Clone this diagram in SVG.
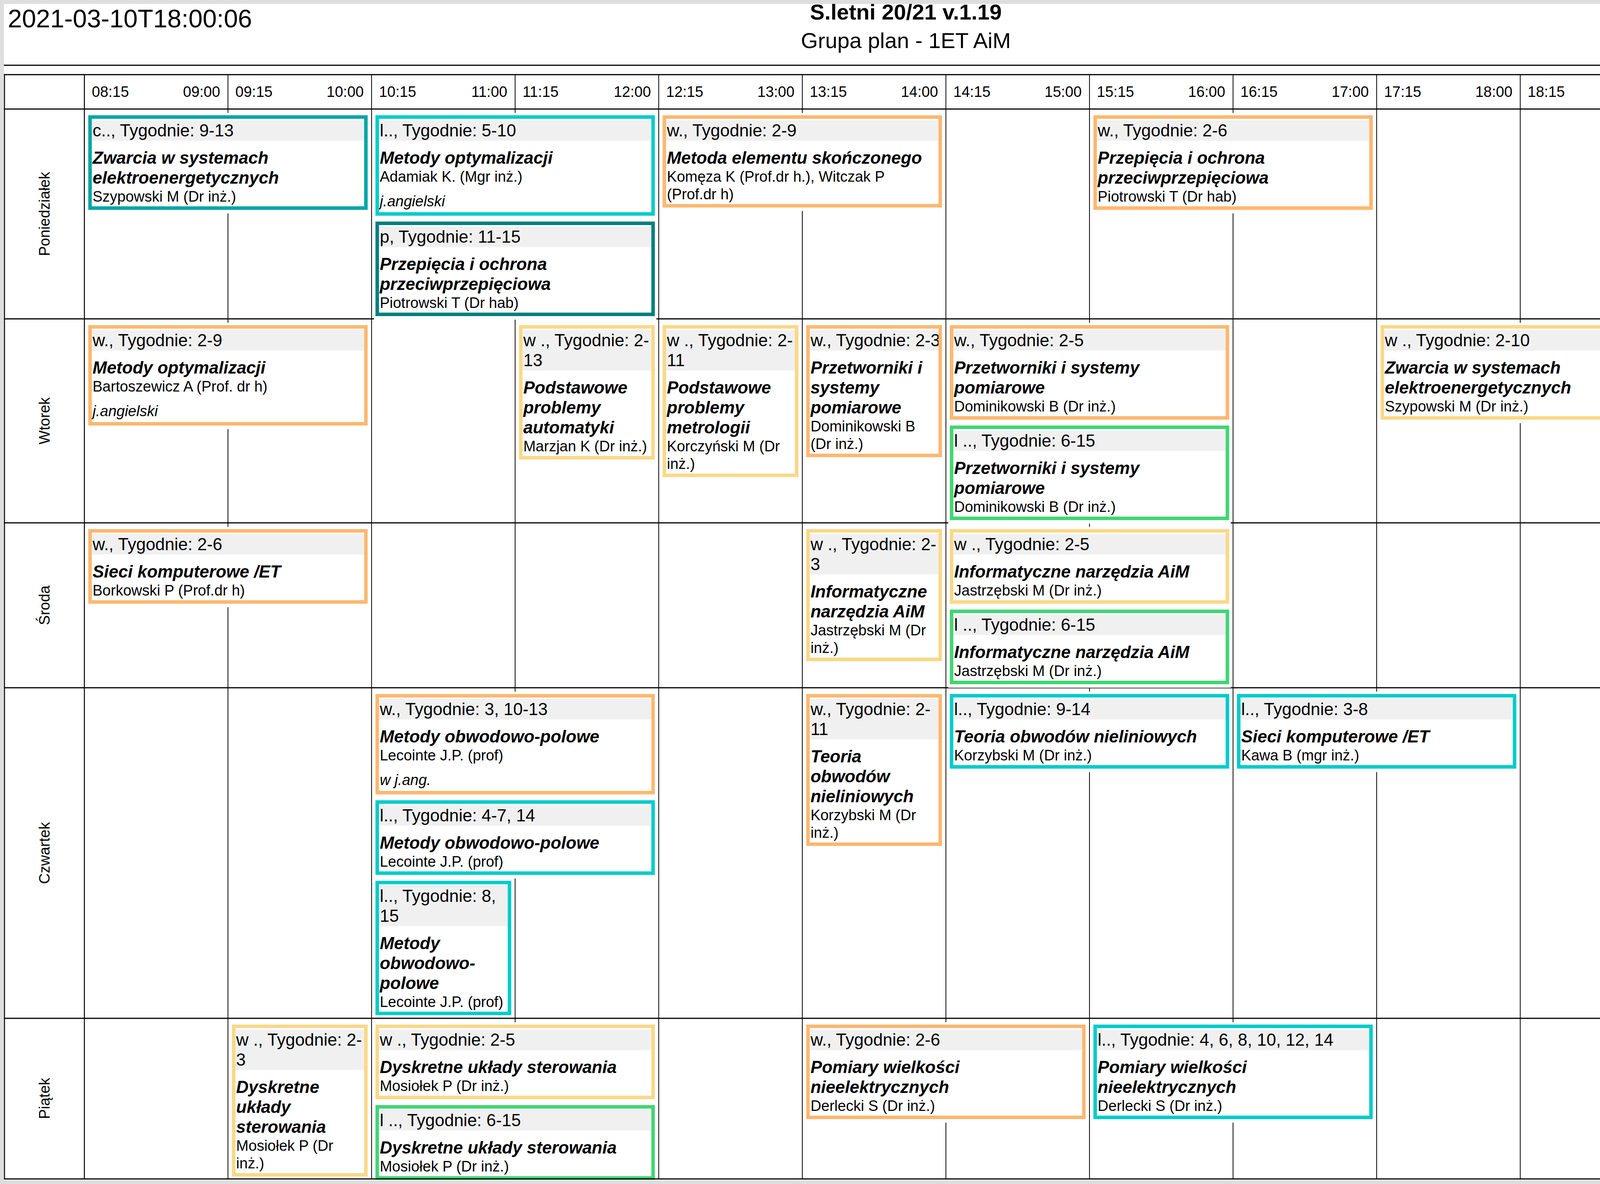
<svg xmlns="http://www.w3.org/2000/svg" width="4638" height="3030" viewBox="0 0 4638 3030">
<style>
text{font-family:"Liberation Sans",Arial,sans-serif;fill:#000}
.date{font-size:65px}
.t1{font-size:56px;font-weight:bold}
.t2{font-size:56px}
.tm{font-size:38px}
.day{font-size:38px}
.hd{font-size:44px}
.ti{font-size:44px;font-weight:bold;font-style:italic}
.tc{font-size:38px}
.nt{font-size:38px;font-style:italic}
.band{fill:#f0f0f0}
.wb{fill:#fff}
.bx{fill:none;stroke-width:9}
.o{stroke:#fdb870}
.y{stroke:#fad888}
.g{stroke:#40d674}
.c{stroke:#00cccc}
.tl{stroke:#00a6a6}
.dt{stroke:#008080}
.k{stroke:#000}
.hl{stroke:#000;stroke-width:3}
.vl{stroke:#000;stroke-width:2}
</style>
<rect x="0" y="0" width="4638" height="3030" fill="#dedede"/>
<rect x="10" y="10" width="4618" height="3010" fill="#fff"/>
<g id="page-header">
<text class="date" x="20" y="70">2021-03-10T18:00:06</text>
<text class="t1" x="2319" y="50" text-anchor="middle">S.letni 20/21 v.1.19</text>
<text class="t2" x="2319" y="123" text-anchor="middle">Grupa plan - 1ET AiM</text>
<line class="hl" x1="10" y1="167" x2="4628" y2="167"/>
</g>
<g id="grid">
<line class="hl" x1="10" y1="191" x2="4628" y2="191"/>
<line class="hl" x1="10" y1="279" x2="4628" y2="279"/>
<line class="hl" x1="10" y1="816" x2="4628" y2="816"/>
<line class="hl" x1="10" y1="1338" x2="4628" y2="1338"/>
<line class="hl" x1="10" y1="1760" x2="4628" y2="1760"/>
<line class="hl" x1="10" y1="2606" x2="4628" y2="2606"/>
<line x1="11.5" y1="191" x2="11.5" y2="3017" stroke="#000" stroke-width="2.5"/>
<line x1="216" y1="191" x2="216" y2="3017" stroke="#000" stroke-width="2.5"/>
<line class="vl" x1="583.6" y1="191" x2="583.6" y2="3017"/>
<line class="vl" x1="951.2" y1="191" x2="951.2" y2="3017"/>
<line class="vl" x1="1318.7" y1="191" x2="1318.7" y2="3017"/>
<line class="vl" x1="1686.3" y1="191" x2="1686.3" y2="3017"/>
<line class="vl" x1="2053.9" y1="191" x2="2053.9" y2="3017"/>
<line class="vl" x1="2421.5" y1="191" x2="2421.5" y2="3017"/>
<line class="vl" x1="2789.1" y1="191" x2="2789.1" y2="3017"/>
<line class="vl" x1="3156.6" y1="191" x2="3156.6" y2="3017"/>
<line class="vl" x1="3524.2" y1="191" x2="3524.2" y2="3017"/>
<line class="vl" x1="3891.8" y1="191" x2="3891.8" y2="3017"/>
<line class="vl" x1="4259.4" y1="191" x2="4259.4" y2="3017"/>
<line x1="4627" y1="191" x2="4627" y2="3017" stroke="#000" stroke-width="2.5"/>
</g>
<g id="time-header">
<text class="tm" x="235" y="248">08:15</text><text class="tm" x="563.6" y="248" text-anchor="end">09:00</text>
<text class="tm" x="602.6" y="248">09:15</text><text class="tm" x="931.2" y="248" text-anchor="end">10:00</text>
<text class="tm" x="970.2" y="248">10:15</text><text class="tm" x="1298.7" y="248" text-anchor="end">11:00</text>
<text class="tm" x="1337.7" y="248">11:15</text><text class="tm" x="1666.3" y="248" text-anchor="end">12:00</text>
<text class="tm" x="1705.3" y="248">12:15</text><text class="tm" x="2033.9" y="248" text-anchor="end">13:00</text>
<text class="tm" x="2072.9" y="248">13:15</text><text class="tm" x="2401.5" y="248" text-anchor="end">14:00</text>
<text class="tm" x="2440.5" y="248">14:15</text><text class="tm" x="2769.1" y="248" text-anchor="end">15:00</text>
<text class="tm" x="2808.1" y="248">15:15</text><text class="tm" x="3136.6" y="248" text-anchor="end">16:00</text>
<text class="tm" x="3175.6" y="248">16:15</text><text class="tm" x="3504.2" y="248" text-anchor="end">17:00</text>
<text class="tm" x="3543.2" y="248">17:15</text><text class="tm" x="3871.8" y="248" text-anchor="end">18:00</text>
<text class="tm" x="3910.8" y="248">18:15</text><text class="tm" x="4239.4" y="248" text-anchor="end">19:00</text>
<text class="tm" x="4278.4" y="248">19:15</text><text class="tm" x="4607" y="248" text-anchor="end">20:00</text>
</g>
<g id="day-labels">
<text class="day" text-anchor="middle" transform="translate(127,547.5) rotate(-90)">Poniedziałek</text>
<text class="day" text-anchor="middle" transform="translate(127,1077) rotate(-90)">Wtorek</text>
<text class="day" text-anchor="middle" transform="translate(127,1549) rotate(-90)">Środa</text>
<text class="day" text-anchor="middle" transform="translate(127,2183) rotate(-90)">Czwartek</text>
<text class="day" text-anchor="middle" transform="translate(127,2811) rotate(-90)">Piątek</text>
</g>

<g id="e01">
<rect class="wb" x="222" y="289" width="723.2" height="257"/>
<rect class="band" x="235" y="308" width="697.2" height="52"/>
<text class="hd" x="237" y="349">c.., Tygodnie: 9-13</text>
<text class="ti" x="237" y="419">Zwarcia w systemach</text>
<text class="ti" x="237" y="470">elektroenergetycznych</text>
<text class="tc" x="237" y="516">Szypowski M (Dr inż.)</text>
<rect class="bx tl" x="230.5" y="299.5" width="706.2" height="233"/>
</g>
<g id="e02">
<rect class="wb" x="957.2" y="289" width="723.2" height="272"/>
<rect class="band" x="970.2" y="308" width="697.2" height="52"/>
<text class="hd" x="972.2" y="349">l.., Tygodnie: 5-10</text>
<text class="ti" x="972.2" y="419">Metody optymalizacji</text>
<text class="tc" x="972.2" y="465">Adamiak K. (Mgr inż.)</text>
<text class="nt" x="972.2" y="528">j.angielski</text>
<rect class="bx c" x="965.7" y="299.5" width="706.2" height="248"/>
</g>
<g id="e03">
<rect class="wb" x="957.2" y="561" width="723.2" height="257"/>
<rect class="band" x="970.2" y="580" width="697.2" height="52"/>
<text class="hd" x="972.2" y="621">p, Tygodnie: 11-15</text>
<text class="ti" x="972.2" y="691">Przepięcia i ochrona</text>
<text class="ti" x="972.2" y="742">przeciwprzepięciowa</text>
<text class="tc" x="972.2" y="788">Piotrowski T (Dr hab)</text>
<rect class="bx dt" x="965.7" y="571.5" width="706.2" height="233"/>
</g>
<g id="e04">
<rect class="wb" x="1692.3" y="289" width="723.2" height="251"/>
<rect class="band" x="1705.3" y="308" width="697.2" height="52"/>
<text class="hd" x="1707.3" y="349">w., Tygodnie: 2-9</text>
<text class="ti" x="1707.3" y="419">Metoda elementu skończonego</text>
<text class="tc" x="1707.3" y="465">Komęza K (Prof.dr h.), Witczak P</text>
<text class="tc" x="1707.3" y="510">(Prof.dr h)</text>
<rect class="bx o" x="1700.8" y="299.5" width="706.2" height="227"/>
</g>
<g id="e05">
<rect class="wb" x="2795.1" y="289" width="723.2" height="257"/>
<rect class="band" x="2808.1" y="308" width="697.2" height="52"/>
<text class="hd" x="2810.1" y="349">w., Tygodnie: 2-6</text>
<text class="ti" x="2810.1" y="419">Przepięcia i ochrona</text>
<text class="ti" x="2810.1" y="470">przeciwprzepięciowa</text>
<text class="tc" x="2810.1" y="516">Piotrowski T (Dr hab)</text>
<rect class="bx o" x="2803.6" y="299.5" width="706.2" height="233"/>
</g>

<g id="e06">
<rect class="wb" x="222" y="826" width="723.2" height="272"/>
<rect class="band" x="235" y="845" width="697.2" height="52"/>
<text class="hd" x="237" y="886">w., Tygodnie: 2-9</text>
<text class="ti" x="237" y="956">Metody optymalizacji</text>
<text class="tc" x="237" y="1002">Bartoszewicz A (Prof. dr h)</text>
<text class="nt" x="237" y="1065">j.angielski</text>
<rect class="bx o" x="230.5" y="836.5" width="706.2" height="248"/>
</g>
<g id="e07">
<rect class="wb" x="1324.7" y="826" width="355.6" height="359"/>
<rect class="band" x="1337.7" y="845" width="329.6" height="103"/>
<text class="hd" x="1339.7" y="886">w ., Tygodnie: 2-</text>
<text class="hd" x="1339.7" y="937">13</text>
<text class="ti" x="1339.7" y="1007">Podstawowe</text>
<text class="ti" x="1339.7" y="1058">problemy</text>
<text class="ti" x="1339.7" y="1109">automatyki</text>
<text class="tc" x="1339.7" y="1155">Marzjan K (Dr inż.)</text>
<rect class="bx y" x="1333.2" y="836.5" width="338.6" height="335"/>
</g>
<g id="e08">
<rect class="wb" x="1692.3" y="826" width="355.6" height="404"/>
<rect class="band" x="1705.3" y="845" width="329.6" height="103"/>
<text class="hd" x="1707.3" y="886">w ., Tygodnie: 2-</text>
<text class="hd" x="1707.3" y="937">11</text>
<text class="ti" x="1707.3" y="1007">Podstawowe</text>
<text class="ti" x="1707.3" y="1058">problemy</text>
<text class="ti" x="1707.3" y="1109">metrologii</text>
<text class="tc" x="1707.3" y="1155">Korczyński M (Dr</text>
<text class="tc" x="1707.3" y="1200">inż.)</text>
<rect class="bx y" x="1700.8" y="836.5" width="338.6" height="380"/>
</g>
<g id="e09">
<rect class="wb" x="2059.9" y="826" width="355.6" height="353"/>
<rect class="band" x="2072.9" y="845" width="329.6" height="52"/>
<text class="hd" x="2074.9" y="886">w., Tygodnie: 2-3</text>
<text class="ti" x="2074.9" y="956">Przetworniki i</text>
<text class="ti" x="2074.9" y="1007">systemy</text>
<text class="ti" x="2074.9" y="1058">pomiarowe</text>
<text class="tc" x="2074.9" y="1104">Dominikowski B</text>
<text class="tc" x="2074.9" y="1149">(Dr inż.)</text>
<rect class="wb" x="2411.5" y="840" width="8" height="60"/>
<rect class="bx o" x="2068.4" y="836.5" width="338.6" height="329"/>
</g>
<g id="e10">
<rect class="wb" x="2427.5" y="826" width="723.2" height="257"/>
<rect class="band" x="2440.5" y="845" width="697.2" height="52"/>
<text class="hd" x="2442.5" y="886">w., Tygodnie: 2-5</text>
<text class="ti" x="2442.5" y="956">Przetworniki i systemy</text>
<text class="ti" x="2442.5" y="1007">pomiarowe</text>
<text class="tc" x="2442.5" y="1053">Dominikowski B (Dr inż.)</text>
<rect class="bx o" x="2436" y="836.5" width="706.2" height="233"/>
</g>
<g id="e11">
<rect class="wb" x="2427.5" y="1083" width="723.2" height="257"/>
<rect class="band" x="2440.5" y="1102" width="697.2" height="52"/>
<text class="hd" x="2442.5" y="1143">l .., Tygodnie: 6-15</text>
<text class="ti" x="2442.5" y="1213">Przetworniki i systemy</text>
<text class="ti" x="2442.5" y="1264">pomiarowe</text>
<text class="tc" x="2442.5" y="1310">Dominikowski B (Dr inż.)</text>
<rect class="bx g" x="2436" y="1093.5" width="706.2" height="233"/>
</g>
<g id="e12">
<rect class="wb" x="3530.2" y="826" width="723.2" height="257"/>
<rect class="band" x="3543.2" y="845" width="697.2" height="52"/>
<text class="hd" x="3545.2" y="886">w ., Tygodnie: 2-10</text>
<text class="ti" x="3545.2" y="956">Zwarcia w systemach</text>
<text class="ti" x="3545.2" y="1007">elektroenergetycznych</text>
<text class="tc" x="3545.2" y="1053">Szypowski M (Dr inż.)</text>
<rect class="bx y" x="3538.7" y="836.5" width="706.2" height="233"/>
</g>

<g id="e13">
<rect class="wb" x="222" y="1348" width="723.2" height="206"/>
<rect class="band" x="235" y="1367" width="697.2" height="52"/>
<text class="hd" x="237" y="1408">w., Tygodnie: 2-6</text>
<text class="ti" x="237" y="1478">Sieci komputerowe /ET</text>
<text class="tc" x="237" y="1524">Borkowski P (Prof.dr h)</text>
<rect class="bx o" x="230.5" y="1358.5" width="706.2" height="182"/>
</g>
<g id="e14">
<rect class="wb" x="2059.9" y="1348" width="355.6" height="353"/>
<rect class="band" x="2072.9" y="1367" width="329.6" height="103"/>
<text class="hd" x="2074.9" y="1408">w ., Tygodnie: 2-</text>
<text class="hd" x="2074.9" y="1459">3</text>
<text class="ti" x="2074.9" y="1529">Informatyczne</text>
<text class="ti" x="2074.9" y="1580">narzędzia AiM</text>
<text class="tc" x="2074.9" y="1626">Jastrzębski M (Dr</text>
<text class="tc" x="2074.9" y="1671">inż.)</text>
<rect class="bx y" x="2068.4" y="1358.5" width="338.6" height="329"/>
</g>
<g id="e15">
<rect class="wb" x="2427.5" y="1348" width="723.2" height="206"/>
<rect class="band" x="2440.5" y="1367" width="697.2" height="52"/>
<text class="hd" x="2442.5" y="1408">w ., Tygodnie: 2-5</text>
<text class="ti" x="2442.5" y="1478">Informatyczne narzędzia AiM</text>
<text class="tc" x="2442.5" y="1524">Jastrzębski M (Dr inż.)</text>
<rect class="bx y" x="2436" y="1358.5" width="706.2" height="182"/>
</g>
<g id="e16">
<rect class="wb" x="2427.5" y="1554" width="723.2" height="206"/>
<rect class="band" x="2440.5" y="1573" width="697.2" height="52"/>
<text class="hd" x="2442.5" y="1614">l .., Tygodnie: 6-15</text>
<text class="ti" x="2442.5" y="1684">Informatyczne narzędzia AiM</text>
<text class="tc" x="2442.5" y="1730">Jastrzębski M (Dr inż.)</text>
<rect class="bx g" x="2436" y="1564.5" width="706.2" height="182"/>
</g>

<g id="e17">
<rect class="wb" x="957.2" y="1770" width="723.2" height="272"/>
<rect class="band" x="970.2" y="1789" width="697.2" height="52"/>
<text class="hd" x="972.2" y="1830">w., Tygodnie: 3, 10-13</text>
<text class="ti" x="972.2" y="1900">Metody obwodowo-polowe</text>
<text class="tc" x="972.2" y="1946">Lecointe J.P. (prof)</text>
<text class="nt" x="972.2" y="2009">w j.ang.</text>
<rect class="bx o" x="965.7" y="1780.5" width="706.2" height="248"/>
</g>
<g id="e18">
<rect class="wb" x="957.2" y="2042" width="723.2" height="206"/>
<rect class="band" x="970.2" y="2061" width="697.2" height="52"/>
<text class="hd" x="972.2" y="2102">l.., Tygodnie: 4-7, 14</text>
<text class="ti" x="972.2" y="2172">Metody obwodowo-polowe</text>
<text class="tc" x="972.2" y="2218">Lecointe J.P. (prof)</text>
<rect class="bx c" x="965.7" y="2052.5" width="706.2" height="182"/>
</g>
<g id="e19">
<rect class="wb" x="957.2" y="2248" width="355.6" height="356"/>
<rect class="band" x="970.2" y="2267" width="329.6" height="103"/>
<text class="hd" x="972.2" y="2308">l.., Tygodnie: 8,</text>
<text class="hd" x="972.2" y="2359">15</text>
<text class="ti" x="972.2" y="2429">Metody</text>
<text class="ti" x="972.2" y="2480">obwodowo-</text>
<text class="ti" x="972.2" y="2531">polowe</text>
<text class="tc" x="972.2" y="2577">Lecointe J.P. (prof)</text>
<rect class="bx c" x="965.7" y="2258.5" width="338.6" height="335"/>
</g>
<g id="e20">
<rect class="wb" x="2059.9" y="1770" width="355.6" height="404"/>
<rect class="band" x="2072.9" y="1789" width="329.6" height="103"/>
<text class="hd" x="2074.9" y="1830">w., Tygodnie: 2-</text>
<text class="hd" x="2074.9" y="1881">11</text>
<text class="ti" x="2074.9" y="1951">Teoria</text>
<text class="ti" x="2074.9" y="2002">obwodów</text>
<text class="ti" x="2074.9" y="2053">nieliniowych</text>
<text class="tc" x="2074.9" y="2099">Korzybski M (Dr</text>
<text class="tc" x="2074.9" y="2144">inż.)</text>
<rect class="bx o" x="2068.4" y="1780.5" width="338.6" height="380"/>
</g>
<g id="e21">
<rect class="wb" x="2427.5" y="1770" width="723.2" height="206"/>
<rect class="band" x="2440.5" y="1789" width="697.2" height="52"/>
<text class="hd" x="2442.5" y="1830">l.., Tygodnie: 9-14</text>
<text class="ti" x="2442.5" y="1900">Teoria obwodów nieliniowych</text>
<text class="tc" x="2442.5" y="1946">Korzybski M (Dr inż.)</text>
<rect class="bx c" x="2436" y="1780.5" width="706.2" height="182"/>
</g>
<g id="e22">
<rect class="wb" x="3162.6" y="1770" width="723.2" height="206"/>
<rect class="band" x="3175.6" y="1789" width="697.2" height="52"/>
<text class="hd" x="3177.6" y="1830">l.., Tygodnie: 3-8</text>
<text class="ti" x="3177.6" y="1900">Sieci komputerowe /ET</text>
<text class="tc" x="3177.6" y="1946">Kawa B (mgr inż.)</text>
<rect class="bx c" x="3171.1" y="1780.5" width="706.2" height="182"/>
</g>

<g id="e23">
<rect class="wb" x="589.6" y="2616" width="355.6" height="402"/>
<rect class="band" x="602.6" y="2635" width="329.6" height="103"/>
<text class="hd" x="604.6" y="2676">w ., Tygodnie: 2-</text>
<text class="hd" x="604.6" y="2727">3</text>
<text class="ti" x="604.6" y="2797">Dyskretne</text>
<text class="ti" x="604.6" y="2848">układy</text>
<text class="ti" x="604.6" y="2899">sterowania</text>
<text class="tc" x="604.6" y="2945">Mosiołek P (Dr</text>
<text class="tc" x="604.6" y="2990">inż.)</text>
<rect class="bx y" x="598.1" y="2626.5" width="338.6" height="380"/>
</g>
<g id="e24">
<rect class="wb" x="957.2" y="2616" width="723.2" height="206"/>
<rect class="band" x="970.2" y="2635" width="697.2" height="52"/>
<text class="hd" x="972.2" y="2676">w ., Tygodnie: 2-5</text>
<text class="ti" x="972.2" y="2746">Dyskretne układy sterowania</text>
<text class="tc" x="972.2" y="2792">Mosiołek P (Dr inż.)</text>
<rect class="bx y" x="965.7" y="2626.5" width="706.2" height="182"/>
</g>
<g id="e25">
<rect class="wb" x="957.2" y="2822" width="723.2" height="196"/>
<rect class="band" x="970.2" y="2841" width="697.2" height="52"/>
<text class="hd" x="972.2" y="2882">l .., Tygodnie: 6-15</text>
<text class="ti" x="972.2" y="2952">Dyskretne układy sterowania</text>
<text class="tc" x="972.2" y="2998">Mosiołek P (Dr inż.)</text>
<rect class="bx g" x="965.7" y="2832.5" width="706.2" height="182"/>
</g>
<g id="e26">
<rect class="wb" x="2059.9" y="2616" width="723.2" height="257"/>
<rect class="band" x="2072.9" y="2635" width="697.2" height="52"/>
<text class="hd" x="2074.9" y="2676">w., Tygodnie: 2-6</text>
<text class="ti" x="2074.9" y="2746">Pomiary wielkości</text>
<text class="ti" x="2074.9" y="2797">nieelektrycznych</text>
<text class="tc" x="2074.9" y="2843">Derlecki S (Dr inż.)</text>
<rect class="bx o" x="2068.4" y="2626.5" width="706.2" height="233"/>
</g>
<g id="e27">
<rect class="wb" x="2795.1" y="2616" width="723.2" height="257"/>
<rect class="band" x="2808.1" y="2635" width="697.2" height="52"/>
<text class="hd" x="2810.1" y="2676">l.., Tygodnie: 4, 6, 8, 10, 12, 14</text>
<text class="ti" x="2810.1" y="2746">Pomiary wielkości</text>
<text class="ti" x="2810.1" y="2797">nieelektrycznych</text>
<text class="tc" x="2810.1" y="2843">Derlecki S (Dr inż.)</text>
<rect class="bx c" x="2803.6" y="2626.5" width="706.2" height="233"/>
</g>
<g id="e28">
<rect class="wb" x="4265.4" y="2616" width="355.6" height="212"/>
<rect class="band" x="4278.4" y="2635" width="329.6" height="52"/>
<text class="hd" x="4280.4" y="2676">Tydz. 3</text>
<text class="ti" x="4280.4" y="2746">.Szkolenie</text>
<text class="ti" x="4280.4" y="2797">EPwSW</text>
<rect class="bx k" x="4273.9" y="2626.5" width="338.6" height="188"/>
</g>
<g id="bottom-border">
<line class="hl" x1="10" y1="3017" x2="4628" y2="3017"/>
</g>
</svg>
